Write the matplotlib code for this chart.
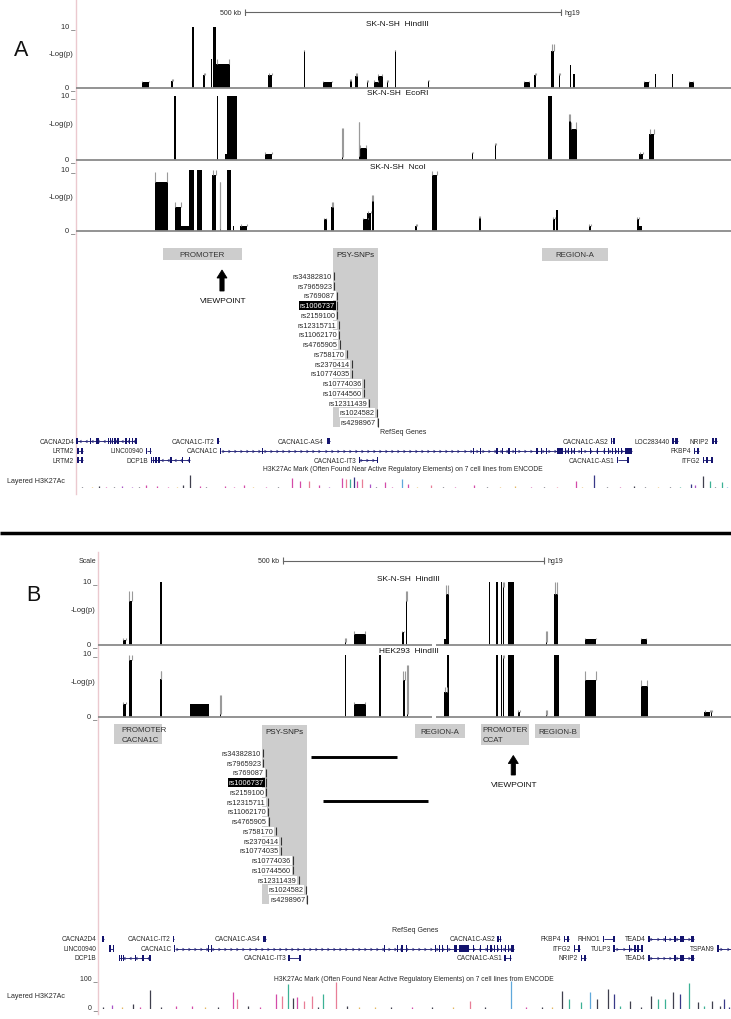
import matplotlib
matplotlib.use("Agg")
import matplotlib.pyplot as plt
from matplotlib.patches import Rectangle, FancyArrow

plt.rcParams["font.family"] = ["Liberation Sans", "DejaVu Sans"]

# ---------- data (positions in kb from the left edge of each browser window) ----------
# 4C bars: (start, end, -log(p) mean, -log(p) max)
a_hind = [(104.5, 115.6, 1.0, 1.2), (151, 154, 1.1, 1.4), (183, 187, 10, 10), (201.6, 204.5, 2.1, 2.4),
          (213.5, 215.7, 4.8, 4.8), (217, 222, 10, 10), (222, 243, 4.0, 4.8), (304, 310, 2.1, 2.4),
          (360, 361.6, 6.0, 6.2), (390, 405, 1.0, 1.2), (433.6, 436, 1.1, 1.4), (441.7, 445.5, 2.0, 2.4),
          (460, 462.5, 1.0, 1.3), (471.5, 477.5, 1.0, 1.3), (477.5, 485, 2.0, 2.3), (492, 494, 1.0, 1.3),
          (504, 505.6, 6.0, 6.2), (557, 559, 1.1, 1.3), (708, 717.7, 1.0, 1.2), (725, 728, 2.1, 2.4),
          (751.8, 756, 6.0, 7.2), (764, 766, 2.1, 2.4), (781, 783.6, 3.7, 3.7), (786.6, 789, 2.3, 2.3),
          (898.6, 906.8, 1.0, 1.2), (916, 918, 2.3, 2.3), (942, 944, 2.3, 2.3), (969.7, 977, 1.0, 1.2)]
a_ecori = [(155.6, 157.8, 10, 10), (223, 224.5, 10, 10), (235.6, 238.6, 1.0, 1.0), (238.6, 254, 10, 10),
           (298.6, 310, 1.0, 1.2), (421, 422.4, 0.5, 5.0), (447, 448, 0.6, 6.0), (448, 459.5, 1.9, 2.3),
           (626, 628, 1.1, 1.3), (662, 665, 2.3, 2.6), (747, 753, 10, 10), (779, 782.5, 6.1, 7.2),
           (782.5, 792, 4.9, 6.0), (891, 897.5, 0.9, 1.2), (907, 915, 4.0, 4.8)]
a_ncoi = [(124.5, 145, 8.0, 9.6), (156, 166, 3.9, 4.7), (166, 178.6, 0.9, 0.9), (178.6, 186, 10, 10),
          (191, 200, 10, 10), (215.7, 221.6, 9.1, 10), (227, 228, 0.3, 8.0), (238.6, 244.6, 10, 10),
          (249, 250.6, 0.8, 0.8), (260, 270.6, 0.9, 1.2), (392, 396.6, 1.9, 2.2), (404, 407.6, 4.0, 4.8),
          (454, 463, 2.0, 2.2), (461, 467, 2.9, 3.3), (467.6, 470.6, 5.0, 5.9), (536.6, 540, 0.9, 1.2),
          (563, 571, 9.1, 9.9), (637, 640, 2.2, 2.5), (754, 758, 2.0, 2.3), (759, 762, 3.5, 3.5),
          (811.6, 815, 0.9, 1.1), (886.6, 891, 2.0, 2.3), (891, 895.6, 0.9, 0.9)]
b_sknsh = [(47.5, 53.8, 0.8, 1.1), (58.4, 64.4, 7.0, 8.6), (118.6, 121.3, 10, 10), (472.5, 474.4, 0.5, 1.1),
           (489.3, 511.8, 1.8, 2.3), (581.7, 585.5, 2.1, 2.3), (589, 591.7, 7.0, 8.6), (662, 666, 1.0, 1.0),
           (666, 670.8, 8.1, 9.5), (747.8, 750.3, 10, 10), (761.4, 765, 10, 10), (770.4, 773.3, 10, 10),
           (774.8, 777.5, 9.2, 10), (783.8, 795.5, 10, 10), (857.6, 859.5, 0.5, 2.3), (873.5, 880, 8.1, 10),
           (932, 953.4, 1.0, 1.2), (1038.9, 1050.5, 1.0, 1.2)]
b_hek = [(47.5, 53.8, 2.1, 2.4), (58.4, 64.4, 9.1, 10), (118.6, 121.3, 6.1, 7.3), (175, 211, 2.1, 2.1),
         (232.6, 234.3, 0.5, 3.6), (472.5, 474.4, 10, 10), (489.3, 511.8, 2.1, 2.4), (536.9, 540.5, 10, 10),
         (583.6, 587.3, 6.0, 7.3), (590.9, 593.6, 0.5, 8.4), (662.6, 667.9, 4.1, 4.9), (667.9, 670.8, 10, 10),
         (761.4, 765, 10, 10), (770.4, 773.3, 10, 10), (774.8, 777.5, 9.5, 10), (783.8, 795.5, 10, 10),
         (803.6, 807.8, 0.9, 1.2), (857.6, 859.5, 0.3, 1.2), (873.5, 881.7, 10, 10), (932, 953.4, 6.0, 7.3),
         (1038.9, 1052.3, 5.0, 6.0), (1161, 1172, 0.9, 1.2), (1173.4, 1176.2, 0.9, 1.2)]

snp_ids = ["rs34382810", "rs7965923", "rs769087", "rs1006737", "rs2159100", "rs12315711", "rs11062170",
           "rs4765905", "rs758170", "rs2370414", "rs10774035", "rs10774036", "rs10744560", "rs12311439",
           "rs1024582", "rs4298967"]
snp_kb = [0, 0, 4.0, 4.0, 4.6, 6.8, 7.9, 8.5, 19.3, 27.2, 27.2, 46.5, 46.5, 55.5, 67.0, 69.5]
snp_lead = "rs1006737"

# RefSeq genes: (name, row, start, end, strand, exons, label in margin)
genes_a = [
    ("CACNA2D4", 0, 0, 95, "-", [1.6, 22.5, (31.6, 36.4), 52, 55, 58, 61.7, 66.4, 79, 84, 89, 95], True),
    ("CACNA1C-IT2", 0, 223, 226, "+", [(223, 226)], False),
    ("CACNA1C-AS4", 0, 396.5, 402, "-", [(396.5, 402)], False),
    ("CACNA1C-AS2", 0, 847, 851, "-", [847, 851], False),
    ("LOC283440", 0, 943, 952, "+", [(943, 945.5), (948, 952)], False),
    ("NRIP2", 0, 1006, 1014, "-", [(1006, 1009), (1011, 1014)], False),
    ("LRTM2", 1, 1.6, 11.7, "-", [(1.6, 4.5), (8, 11.7)], True),
    ("LINC00940", 1, 112, 118.6, "+", [112, (116.5, 118.6)], False),
    ("CACNA1C", 1, 229, 879, "+", [229, 295, 629, 640, 666, 674, 685, 695.4, 729, 736.5, 744, (760.6, 769.5),
                                  774, 779, 784, 788, 799, 814, 825, 836, 842, 848, 853, 858, 863, (868, 879)], False),
    ("FKBP4", 1, 977, 985.6, "+", [(977, 979.5), (982, 985.6)], False),
    ("LRTM2", 2, 1.6, 11.7, "-", [(1.6, 4.5), (8, 11.7)], True),
    ("DCP1B", 2, 119, 180, "-", [119, 122.6, 126.4, 131.3, 150.3, 169, 180], False),
    ("CACNA1C-IT3", 2, 448, 476.5, "+", [448, 476.5], False),
    ("CACNA1C-AS1", 2, 857, 873, "-", [857, 873], False),
    ("ITFG2", 2, 992, 1006, "-", [992, (996, 1000), 1006], False),
]
genes_b = [
    ("CACNA2D4", 0, 6.3, 10.7, "-", [(6.3, 10.7)], True),
    ("CACNA1C-IT2", 0, 143, 145.4, "+", [(143, 145.4)], False),
    ("CACNA1C-AS4", 0, 316, 321.5, "-", [(316, 321.5)], False),
    ("CACNA1C-AS2", 0, 765.6, 770.4, "-", [765.6, 770.4], False),
    ("FKBP4", 0, 891.5, 902.4, "+", [(891.5, 894), (897, 902.4)], False),
    ("RHNO1", 0, 968, 987.7, "+", [968, 987.7], False),
    ("TEAD4", 0, 1055, 1140.4, "+", [1055, 1087, 1104.8, (1113.4, 1122), (1135.5, 1140.4)], False),
    ("LINC00940", 1, 22.2, 28.7, "+", [22.2, 28.7], True),
    ("CACNA1C", 1, 146.4, 796.3, "+", [146.4, 211.6, 216.2, 547.8, 572.9, 581.7, 590.6, 646.3, 653.4, 659.7,
                                      668.7, (680.6, 686.9), (690.9, 709.3), 718.3, 731.7, 745.2, 752.3, 758.8,
                                      765.1, 772.2, 779.5, 785.6, (790.2, 796.3)], False),
    ("ITFG2", 1, 911, 922.8, "-", [(911, 914), (918, 922.8)], False),
    ("TULP3", 1, 988, 1041.6, "+", [988, 1017.7, 1028, 1034, 1041.6], False),
    ("TSPAN9", 1, 1187, 1215, "+", [1187], False),
    ("DCP1B", 2, 40.4, 98.9, "-", [40.4, 44, 48.5, 71.3, 85.5, 98.9], True),
    ("CACNA1C-IT3", 2, 365.2, 386.3, "+", [365.2, 386.3], False),
    ("CACNA1C-AS1", 2, 779, 790, "-", [779, 790], False),
    ("NRIP2", 2, 924.6, 933.7, "-", [(924.6, 927), (930, 933.7)], False),
    ("TEAD4", 2, 1055, 1140.4, "+", [1055, 1104.8, (1113.4, 1122), (1135.5, 1140.4)], False),
]

# Layered H3K27Ac peaks (position kb, signal, cell line)
a_h3_pos = [180, 169, 111, 37, 72.5, 128, 196, 265, 236, 341, 354, 369, 384, 421, 427, 434, 439.5, 444.5, 452,
            465, 488, 515, 525, 562, 630, 695, 791.6, 820, 882, 973, 978.5, 992, 1003, 1021,
            10, 25, 48, 60, 88, 100, 145, 160, 205, 250, 280, 300, 320, 400, 475, 500, 540, 580, 600, 650,
            670, 720, 740, 760, 800, 840, 860, 900, 920, 940, 955, 1010, 1030]
a_h3_val = [75, 18, 18, 10, 10, 10, 10, 18, 10, 58, 40, 40, 18, 58, 49, 49, 63, 40, 49,
            23, 32, 49, 23, 18, 18, 10, 40, 70, 14, 23, 18, 67, 40, 35,
            6, 5, 7, 5, 8, 6, 7, 5, 6, 7, 5, 8, 6, 6, 8, 6, 5, 6, 5, 6,
            5, 6, 5, 6, 5, 6, 7, 6, 5, 7, 8, 8, 6]
a_h3_cell = ["mix", "mix", "NHLF", "mix", "NHEK", "NHLF", "NHLF", "NHLF", "NHLF", "NHLF", "NHLF", "GM12878",
             "NHLF", "NHLF", "GM12878", "HSMM", "K562", "NHLF", "GM12878", "NHEK", "NHLF", "HUVEC", "NHLF",
             "GM12878", "NHLF", "H1", "NHLF", "K562", "mix", "K562", "NHEK", "mix", "HSMM", "HSMM",
             "mix", "H1", "NHLF", "mix", "NHEK", "mix", "NHLF", "H1", "mix", "NHLF", "H1", "NHLF", "mix",
             "NHEK", "mix", "NHLF", "H1", "mix", "NHLF", "mix", "H1", "NHLF", "mix", "GM12878", "H1", "mix",
             "NHLF", "mix", "H1", "mix", "HSMM", "mix", "HUVEC"]
b_h3_pos = [98.9, 65.5, 27, 148, 258.6, 264.8, 287.4, 339.4, 352, 363.7, 372.7, 379.8, 393.3, 408.5, 431,
            456, 476, 529.8, 712, 790, 889, 902, 924.7, 941, 956, 977, 987.7, 1019, 1059.5, 1073, 1086,
            1100, 1113.4, 1131, 1149, 1176, 1198.7,
            8, 45, 80, 120, 180, 205, 230, 310, 420, 500, 560, 600, 640, 680, 740, 820, 850, 870, 1000,
            1040, 1160, 1190, 1208]
b_h3_val = [66, 16, 13, 10, 56, 33, 10, 50, 45, 85, 36, 39, 28, 45, 50, 93, 10, 7, 28, 97, 62, 33, 22,
            56, 33, 68, 50, 28, 45, 33, 33, 56, 50, 89, 22, 28, 33,
            5, 6, 7, 5, 8, 6, 5, 7, 6, 5, 6, 5, 6, 5, 6, 5, 6, 5, 8, 7, 9, 8, 6]
b_h3_cell = ["mix", "mix", "NHEK", "NHLF", "NHLF", "GM12878", "mix", "NHLF", "GM12878", "HSMM", "mix",
             "NHLF", "GM12878", "GM12878", "HSMM", "GM12878", "mix", "H1", "GM12878", "HUVEC", "mix", "HSMM",
             "HSMM", "HUVEC", "mix", "mix", "K562", "mix", "mix", "HSMM", "HSMM", "mix", "K562", "HSMM",
             "mix", "mix", "K562",
             "mix", "H1", "NHLF", "mix", "NHLF", "H1", "mix", "NHLF", "mix", "H1", "mix", "NHLF", "mix",
             "H1", "mix", "NHLF", "mix", "H1", "HSMM", "mix", "HSMM", "mix", "K562"]

# ---------- style / layout ----------
W, H = 731, 1020
NAVY = "#14146e"
TXT = "#2a2a2a"
BOXGRAY = "#cdcdcd"
CELL_COLORS = {"GM12878": "#e6708c", "H1": "#e0b050", "HSMM": "#27a98a", "HUVEC": "#4f9fd8",
               "K562": "#22227a", "NHEK": "#a040c0", "NHLF": "#d0379f", "mix": "#2a2a3a"}

fig = plt.figure(figsize=(W / 100, H / 100), dpi=100)
fig.patch.set_facecolor("white")

ov = fig.add_axes([0, 0, 1, 1])
ov.set_xlim(0, W)
ov.set_ylim(H, 0)
ov.set_axis_off()


def px_axes(x0, y0, x1, y1):
    ax = fig.add_axes([x0 / W, 1 - y1 / H, (x1 - x0) / W, (y1 - y0) / H])
    ax.set_axis_off()
    return ax


def txt(x, y, s, ha="center", va="center", fs=5.5, **kw):
    kw.setdefault("color", TXT)
    ov.text(x, y, s, ha=ha, va=va, fontsize=fs, **kw)


def draw_track(x0, y_top, y_base, span, bars, title, gap=None):
    ax = px_axes(x0, y_top, W, y_base)
    ax.set_xlim(0, span)
    ax.set_ylim(0, 10)
    kpp = span / (W - x0)
    for s, e, v, hi in bars:
        w = max(e - s, 1.0 * kpp)
        if hi > v:
            # grey whiskers on both edges up to the window maximum
            ax.vlines([s + 0.3 * kpp, s + w - 0.3 * kpp], v, hi, color="#9a9a9a", lw=0.8)
        ax.bar(s, v, width=w, align="edge", color="black", lw=0)
    if gap is None:
        ax.hlines(0, 0, span, color="#8a8a8a", lw=1.3, clip_on=False)
    else:
        ax.hlines(0, 0, gap[0], color="#8a8a8a", lw=1.3, clip_on=False)
        ax.hlines(0, gap[1], span, color="#8a8a8a", lw=1.3, clip_on=False)
    txt((x0 + W) / 2 - 6, y_top - 3.5, title, fs=6, color="#111")
    txt(x0 - 1, y_top, "10 _", ha="right", va="baseline", fs=5.3)
    txt(x0 - 3, y_top + 0.43 * (y_base - y_top), "-Log(p)", ha="right", fs=5.5)
    txt(x0 - 1, y_base, "0 _", ha="right", va="baseline", fs=5.3)


def draw_scale(x0, y, span, start):
    ax = px_axes(x0, y - 4, W, y + 4)
    ax.set_xlim(0, span)
    ax.set_ylim(-1, 1)
    ax.plot([start, start + 500], [0, 0], color="#666", lw=0.8)
    ax.vlines([start, start + 500], -0.9, 0.9, color="#666", lw=0.8)
    ax.annotate("500 kb", xy=(start, 0), xytext=(-2.5, 0), textcoords="offset points",
                ha="right", va="center", fontsize=5, color=TXT)
    ax.annotate("hg19", xy=(start + 500, 0), xytext=(3, 0), textcoords="offset points",
                ha="left", va="center", fontsize=5, color=TXT)


def draw_genes(x0, y_row0, span, genes):
    ax = px_axes(x0, y_row0 - 4.75, W, y_row0 + 2 * 9.5 + 4.75)
    ax.set_xlim(0, span)
    ax.set_ylim(2.5, -0.5)
    kpp = span / (W - x0)
    for name, row, s, e, strand, exons, margin in genes:
        ax.plot([s, e], [row, row], color=NAVY, lw=0.6, solid_capstyle="butt")
        n = int((e - s) / (6 * kpp))
        if n >= 2:
            xs = [s + (i + 0.5) * (e - s) / n for i in range(n)]
            ax.plot(xs, [row] * n, ls="none", marker=5 if strand == "+" else 4, ms=2.0,
                    mfc="none", mec=NAVY, mew=0.45)
        for ex in exons:
            if isinstance(ex, tuple):
                a, b = ex
            else:
                a, b = ex - 0.6 * kpp, ex + 0.6 * kpp
            ax.add_patch(Rectangle((a, row - 0.33), b - a, 0.66, color=NAVY, lw=0))
        if margin:
            ax.annotate(name, xy=(0, row), xytext=(-1.5, 0), textcoords="offset points", ha="right",
                        va="center", fontsize=4.7, color=TXT, annotation_clip=False)
        else:
            ax.annotate(name, xy=(s, row), xytext=(-2.2, 0), textcoords="offset points", ha="right",
                        va="center", fontsize=4.7, color=TXT)
    txt((x0 + W) / 2, y_row0 - 9.8, "RefSeq Genes", fs=5)


def draw_h3(x0, y_top, y_base, span, pos, vals, cells):
    ax = px_axes(x0, y_top, W, y_base)
    ax.set_xlim(0, span)
    ax.set_ylim(0, 100)
    order = sorted(range(len(pos)), key=lambda i: -vals[i])
    ax.vlines([pos[i] for i in order], 0, [vals[i] for i in order],
              colors=[CELL_COLORS[cells[i]] for i in order], lw=0.9, alpha=0.9)
    ax.hlines(0, 0, span, color="#555", lw=0.7)
    txt(7, (y_top + y_base) / 2 + 1.5, "Layered H3K27Ac", ha="left", fs=5.1)
    txt((x0 + W) / 2 - 1, y_top - 1, "H3K27Ac Mark (Often Found Near Active Regulatory Elements) on 7 cell "
        "lines from ENCODE", fs=4.85)


def snp_block(x0, y0):
    ov.add_patch(Rectangle((x0, y0), 45.5, 179, color=BOXGRAY, lw=0))
    txt(x0 + 22.8, y0 + 6.5, "PSY-SNPs", fs=5.8, color="#222")
    ax = px_axes(x0, y0 + 23.4, x0 + 45.5, y0 + 23.4 + 16 * 9.75)
    ax.set_xlim(-2.8, 69.2)
    ax.set_ylim(15.5, -0.5)
    for i, (name, p) in enumerate(zip(snp_ids, snp_kb)):
        ax.vlines(p, i - 0.42, i + 0.42, color="#333", lw=0.8, clip_on=False)
        if name == snp_lead:
            ax.annotate(name, xy=(p, i), xytext=(-1.6, 0), textcoords="offset points", ha="right",
                        va="center", fontsize=5.3, color="white", annotation_clip=False,
                        bbox=dict(boxstyle="square,pad=0.12", fc="black", ec="none"))
        else:
            ax.annotate(name, xy=(p, i), xytext=(-1.6, 0), textcoords="offset points", ha="right",
                        va="center", fontsize=5.3, color=TXT, annotation_clip=False,
                        bbox=dict(boxstyle="square,pad=0.12", fc="white", ec="none"))


def gray_box(x0, y0, x1, y1, lines, left=None):
    ov.add_patch(Rectangle((x0, y0), x1 - x0, y1 - y0, color=BOXGRAY, lw=0))
    n = len(lines)
    for k, s in enumerate(lines):
        yy = y0 + (y1 - y0) * (k + 0.5) / n + 0.3
        if left is None:
            txt((x0 + x1) / 2, yy, s, fs=5.7, color="#333")
        else:
            txt(left, yy, s, ha="left", fs=5.7, color="#333")


def viewpoint(xc, y_bottom, y_top, y_text):
    ov.add_patch(FancyArrow(xc, y_bottom, 0, y_top - y_bottom, width=4.2, head_width=10,
                            head_length=8, length_includes_head=True, fc="black", ec="black", lw=0.6))
    txt(xc + 1, y_text, "VIEWPOINT", fs=6, color="#111")


# ================= panel A =================
A_X0, A_SPAN = 76, 1036
ov.plot([75.5, 75.5], [0, 495], color="#ebc9cf", lw=1)
txt(21, 50, "A", fs=15.5, color="#111")
draw_scale(A_X0, 13.3, A_SPAN, 266.7)
draw_track(A_X0, 28, 89, A_SPAN, a_hind, "SK-N-SH  HindIII")
draw_track(A_X0, 97, 161, A_SPAN, a_ecori, "SK-N-SH  EcoRI")
draw_track(A_X0, 171, 232, A_SPAN, a_ncoi, "SK-N-SH  NcoI")

gray_box(162.8, 249, 241.8, 261.2, ["PROMOTER"])
gray_box(541.5, 249, 608, 262, ["REGION-A"])
viewpoint(222, 292, 271, 302)
snp_block(332.6, 249)
draw_genes(A_X0, 442.3, A_SPAN, genes_a)
draw_h3(A_X0, 471, 489.3, A_SPAN, a_h3_pos, a_h3_val, a_h3_cell)

# separator
ov.plot([0, W], [534, 534], color="black", lw=2.5, solid_capstyle="butt")

# ================= panel B =================
B_X0, B_SPAN = 98.4, 1212
ov.plot([97.5, 97.5], [553, 1015], color="#ebc9cf", lw=1)
txt(33, 596, "B", fs=15.5, color="#111")
txt(96, 561.5, "Scale", ha="right", fs=5)
draw_scale(B_X0, 561.5, B_SPAN, 353)
draw_track(B_X0, 583.3, 646.3, B_SPAN, b_sknsh, "SK-N-SH  HindIII", gap=(639, 647))
draw_track(B_X0, 655.5, 718.3, B_SPAN, b_hek, "HEK293  HindIII", gap=(639, 647))

gray_box(114, 725, 162.3, 745, ["PROMOTER", "CACNA1C"], left=121.7)
gray_box(415, 725, 465, 739.3, ["REGION-A"])
gray_box(481, 725, 529.3, 745.7, ["PROMOTER", "CCAT"], left=482.5)
gray_box(535, 725, 580, 739.3, ["REGION-B"])
viewpoint(513.3, 776, 756.5, 785.7)
snp_block(261.7, 726)
ov.plot([310.7, 396.7], [758, 758], color="black", lw=2.1, solid_capstyle="butt")
ov.plot([322.7, 427.7], [802.3, 802.3], color="black", lw=2.1, solid_capstyle="butt")

draw_genes(B_X0, 940, B_SPAN, genes_b)
draw_h3(B_X0, 980.7, 1009.7, B_SPAN, b_h3_pos, b_h3_val, b_h3_cell)
txt(98, 980.7, "100 _", ha="right", va="baseline", fs=5)
txt(98, 1009.7, "0 _", ha="right", va="baseline", fs=5)

fig.savefig("out.png", dpi=100)
